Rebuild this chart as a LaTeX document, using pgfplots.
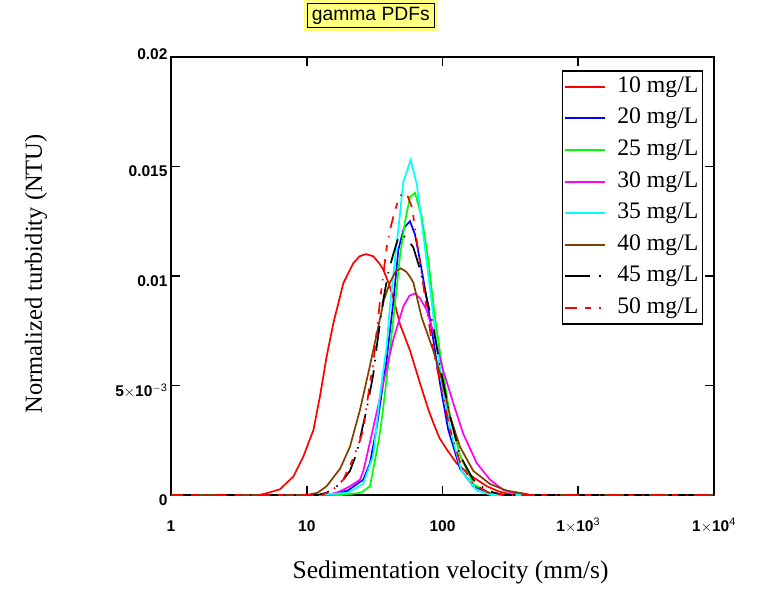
\documentclass[border=0pt]{standalone}
\usepackage{pgfplots}
\pgfplotsset{compat=1.18}
\usepackage{fontspec}
\setmainfont{Liberation Serif}
\newfontfamily\arial{Liberation Sans}
\definecolor{brn}{RGB}{128,64,0}
\definecolor{ylw}{RGB}{255,255,128}
\definecolor{rd}{RGB}{255,0,0}
\definecolor{bl}{RGB}{0,0,255}
\definecolor{gr}{RGB}{0,255,0}
\definecolor{mg}{RGB}{255,0,255}
\definecolor{cy}{RGB}{0,255,255}
\newcommand{\tickfont}{\arial\bfseries\fontsize{15.5}{17}\selectfont}
\newcommand{\lgap}{\hspace*{9pt}}
\begin{document}
\begin{tikzpicture}
\useasboundingbox (0pt,0pt) rectangle (770pt,599pt);
\begin{axis}[
  at={(171pt,104pt)}, anchor=south west,
  scale only axis, width=543pt, height=438pt,
  xmode=log, xmin=1, xmax=10000, ymin=0, ymax=0.02,
  xtick={1,10,100,1000,10000},
  xticklabels={1,10,100,1$\times$10\textsuperscript{\mdseries 3},1$\times$10\textsuperscript{\mdseries 4}},
  xminorticks=false,
  ytick={0,0.005,0.01,0.015,0.02},
  yticklabels={0,5$\times$10\textsuperscript{\mdseries $-$3},0.01,0.015,\smash{\raisebox{2pt}{0.02}}},
  scaled y ticks=false,
  tick align=inside,
  major tick length=9pt,
  every tick/.style={black, line width=1.6pt},
  axis line style={line width=1.6pt},
  xticklabel style={font=\tickfont, anchor=base, yshift=-36pt},
  yticklabel style={font=\tickfont, yshift=-5pt},
  clip=false,
  xlabel={Sedimentation velocity (mm/s)},
  ylabel={Normalized turbidity (NTU)},
  xlabel style={at={(axis description cs:0.515,-0.1895)}, anchor=base, font=\fontsize{25.5}{28}\selectfont},
  ylabel style={at={(axis description cs:-0.2376,0.505)}, anchor=base, font=\fontsize{24.5}{28}\selectfont},
  title={gamma PDFs},
  title style={at={(axis description cs:0.368,1.081)}, anchor=center,
    font=\arial\fontsize{19.3}{21}\selectfont,
    fill=ylw, draw=black, line width=1pt, preaction={draw=ylw, line width=7pt},
    text height=13.8pt, text depth=4pt, inner xsep=4.5pt, inner ysep=3.2pt},
  every axis plot/.append style={line width=1.7pt},
  legend image code/.code={\draw[line width=2pt,#1] (0pt,0pt) -- (40pt,0pt);},
  legend cell align=left,
  legend style={at={(0.98,0.970)}, anchor=north east,
    draw=black, line width=1.6pt,
    font=\fontsize{23.7}{26}\selectfont,
    row sep=6.6pt, inner xsep=2pt, inner ysep=3.4pt,
    nodes={inner sep=2pt, text height=16pt, text depth=5pt}},
]
% 10 mg/L
\addplot[rd] coordinates {(1,0) (4.5,0) (5.07,0.00008) (6.35,0.00026) (7.96,0.00084) (9.43,0.00175) (11.2,0.00297) (12.5,0.00449) (14.0,0.00631) (15.7,0.00784) (18.6,0.00967) (22,0.01058) (24.5,0.0109) (27.3,0.0110) (30.9,0.0109) (34,0.0106) (36.6,0.0103) (40,0.0097) (43.4,0.0090) (48.6,0.0078) (57.6,0.0066) (68.3,0.0051) (78.7,0.0039) (85.5,0.0033) (95,0.0026) (107,0.0021) (127,0.00145) (160,0.0009) (212,0.0004) (263,0.00015) (320,0.00003) (400,0) (10000,0)};
\addlegendentry{\lgap 10 mg/L}
% 20 mg/L
\addplot[bl] coordinates {(1,0) (14,0) (20,0.0002) (26.1,0.0007) (29.2,0.00145) (32.8,0.0031) (35,0.0043) (38.8,0.0062) (43.4,0.0088) (47.3,0.0112) (52,0.0122) (57.6,0.0125) (62.7,0.0119) (68.3,0.0107) (76.4,0.0090) (85.5,0.0071) (95.8,0.0051) (110,0.0030) (134.6,0.0012) (168.6,0.0004) (220,0.0001) (280,0) (10000,0)};
\addlegendentry{\lgap 20 mg/L}
% 25 mg/L
\addplot[gr] coordinates {(1,0) (18,0) (25,0.0001) (29.2,0.0004) (32.8,0.0020) (34.7,0.0029) (36.6,0.0040) (41,0.0066) (45.9,0.0094) (48.6,0.0109) (53,0.0125) (57.6,0.0136) (62.7,0.0138) (70.3,0.0127) (78.7,0.0107) (88,0.0081) (98.7,0.0060) (113.6,0.0036) (134.6,0.0018) (168.6,0.0005) (220,0.0001) (280,0) (10000,0)};
\addlegendentry{\lgap 25 mg/L}
% 30 mg/L
\addplot[mg] coordinates {(1,0) (15,0) (18,0.0002) (20.8,0.0004) (24.7,0.0007) (26.1,0.0011) (29.2,0.0024) (32,0.0035) (36.6,0.0051) (43.4,0.0071) (51.4,0.0086) (57,0.0091) (62.7,0.0092) (68,0.0090) (76.4,0.00845) (88,0.0072) (101,0.0057) (120,0.0042) (142,0.0028) (179,0.00145) (224,0.0007) (281,0.00023) (350,0.00005) (420,0) (10000,0)};
\addlegendentry{\lgap 30 mg/L}
% 35 mg/L
\addplot[cy] coordinates {(1,0) (12,0) (20,0.0001) (26,0.0005) (30.9,0.0018) (34.7,0.0046) (38.8,0.0068) (41,0.0086) (44.7,0.0108) (48,0.0125) (51.4,0.0143) (58.3,0.0153) (64.6,0.0142) (72.2,0.0119) (81,0.0094) (90.6,0.0069) (101,0.0048) (117,0.0027) (138,0.0011) (179,0.0002) (230,0) (10000,0)};
\addlegendentry{\lgap 35 mg/L}
% 40 mg/L
\addplot[brn] coordinates {(1,0) (10,0) (12,0.0001) (14,0.0004) (17.6,0.0012) (20.8,0.0022) (24.7,0.0039) (29.2,0.0059) (33.7,0.0077) (37,0.0089) (41,0.0097) (45,0.0102) (49.2,0.01035) (54,0.0102) (57.6,0.00997) (61,0.0097) (70.3,0.0081) (85.5,0.0066) (98.7,0.0053) (113.6,0.0036) (134.6,0.0022) (168.6,0.0011) (224,0.0005) (297,0.0002) (372,0.0001) (450,0) (10000,0)};
\addlegendentry{\lgap 40 mg/L}
% 45 mg/L
\addplot[black, dash pattern=on 25pt off 9pt on 1.5pt off 9pt] coordinates {(1,0) (12,0) (14,0.0001) (17.6,0.0005) (20.8,0.0011) (23.3,0.0019) (27.6,0.0039) (30.9,0.0055) (32.8,0.0068) (36.6,0.0089) (40,0.0102) (43.4,0.0110) (47,0.0117) (50,0.0119) (55,0.0117) (61,0.0113) (68.3,0.0103) (76.4,0.0090) (85.5,0.0077) (95.8,0.0059) (113.6,0.0036) (134.6,0.0018) (168.6,0.0007) (212,0.0002) (280,0) (10000,0)};
\addlegendentry{\lgap 45 mg/L}
% 50 mg/L
\addplot[rd, dash pattern=on 12pt off 8pt on 6pt off 8pt on 1.5pt off 8pt] coordinates {(1,0) (13,0) (16,0.0003) (18.6,0.0007) (22.1,0.0017) (24.7,0.0025) (26.1,0.0030) (29.2,0.0051) (30.9,0.0060) (34.7,0.0089) (38.8,0.0113) (41,0.0121) (44.7,0.0130) (48,0.0136) (51.4,0.0138) (55,0.0137) (59.8,0.0131) (64.6,0.0116) (70.3,0.0101) (76.4,0.0085) (85.5,0.0066) (98.7,0.0048) (113.6,0.0030) (134.6,0.0015) (168.6,0.0005) (220,0.0001) (300,0) (10000,0)};
\addlegendentry{\lgap 50 mg/L}
\end{axis}
\end{tikzpicture}
\end{document}
